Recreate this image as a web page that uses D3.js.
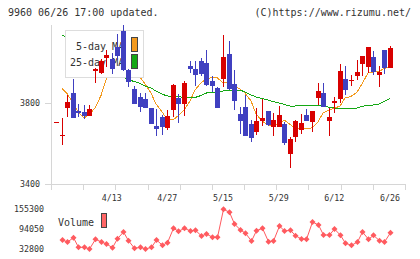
<!DOCTYPE html>
<html>
<head>
<meta charset="utf-8">
<script src="https://cdn.jsdelivr.net/npm/d3@7"></script>
<style>
  body { margin: 0; background: #fff; }
  svg text { font-family: "DejaVu Sans Mono", monospace; fill: #333; }
</style>
</head>
<body>
<svg width="420" height="259"></svg>
<script>
// trading days, 2020-03-30 .. 2020-06-26
const dates = [
  "3/30","3/31","4/1","4/2","4/3","4/6","4/7","4/8","4/9","4/10",
  "4/13","4/14","4/15","4/16","4/17","4/20","4/21","4/22","4/23","4/24",
  "4/27","4/28","4/30","5/1","5/7","5/8","5/11","5/12","5/13","5/14",
  "5/15","5/18","5/19","5/20","5/21","5/22","5/25","5/26","5/27","5/28",
  "5/29","6/1","6/2","6/3","6/4","6/5","6/8","6/9","6/10","6/11",
  "6/12","6/15","6/16","6/17","6/18","6/19","6/22","6/23","6/24","6/25",
  "6/26"
];
const open = [
  3705,3640,3775,3850,3760,3755,3735,3960,3950,4020,
  4015,4075,4155,3965,3870,3830,3820,3775,3685,3730,
  3675,3765,3825,3795,3985,3970,4005,3995,3910,3875,
  3920,4040,3895,3745,3780,3695,3655,3710,3760,3680,
  3680,3695,3550,3630,3665,3740,3705,3825,3850,3710,
  3800,3820,3920,3910,3935,3990,3980,4025,3940,4060,
  3975
];
const high = [
  3705,3725,3840,3920,3795,3790,3790,3975,4015,4060,
  4045,4140,4185,3970,3885,3850,3850,3775,3770,3740,
  3765,3895,3845,3910,4005,4005,4020,4060,3935,3880,
  4135,4105,3965,3780,3840,3715,3775,3820,3760,3750,
  3785,3705,3630,3715,3745,3770,3760,3900,3900,3775,
  3830,3990,3985,3940,4010,4030,4075,4055,3985,4060,
  4080
];
const low = [
  3705,3595,3730,3725,3730,3720,3735,3900,3945,3980,
  3945,4010,3960,3880,3795,3755,3775,3695,3635,3640,
  3665,3730,3700,3735,3950,3885,3935,3885,3855,3775,
  3880,3865,3765,3645,3635,3605,3640,3685,3685,3635,
  3680,3595,3480,3605,3645,3710,3655,3790,3780,3635,
  3750,3800,3840,3885,3915,3935,3950,3940,3880,3945,
  3975
];
const close = [
  3705,3640,3805,3725,3750,3735,3770,3970,4005,4035,
  3970,4030,3965,3905,3795,3780,3775,3695,3670,3680,
  3735,3890,3795,3900,3970,3940,3945,3890,3885,3775,
  4025,3870,3810,3710,3635,3625,3710,3725,3690,3715,
  3740,3600,3620,3710,3700,3710,3760,3860,3780,3730,
  3810,3960,3865,3915,3955,4030,4075,3955,3955,3975,
  4070
];
const ma5 = [
  null,3872,3847,3800,3756,3726,3741,3775,3837,3914,
  3963,4002,4022,4002,3953,3928,3894,3849,3795,3756,
  3721,3716,3736,3765,3810,3864,3899,3919,3926,3926,
  3899,3899,3884,3869,3849,3810,3746,3711,3691,3689,
  3696,3716,3694,3677,3672,3672,3677,3706,3751,3765,
  3773,3785,3825,3832,3854,3894,3948,3953,3955,3970,
  3979
];
const ma25 = [
  null,4136,4121,4106,4091,4072,4052,4037,4017,3993,
  3968,3948,3928,3916,3906,3897,3884,3874,3859,3844,
  3835,3832,3832,3827,3825,3827,3837,3849,3852,3854,
  3859,3864,3864,3864,3854,3840,3830,3822,3815,3807,
  3800,3793,3785,3785,3788,3788,3788,3788,3785,3779,
  3775,3775,3775,3775,3775,3783,3788,3790,3795,3807,
  3823
];
const volume = [
  null,60400,54200,67400,38000,38000,32800,62500,54200,48100,
  36800,64300,84900,58200,34900,38000,32800,38000,60400,44100,
  52100,96200,87000,96200,87900,90100,72600,78700,68600,68600,
  154400,145200,109400,91000,80900,57300,88800,96200,55200,57300,
  103200,87900,90100,73500,63400,62500,115500,106300,75700,75700,
  94100,74700,50300,44100,54200,84900,62500,74700,58200,54200,
  82700
];
const priceTicks = [3400, 3800];
const volumeTicks = [32800, 94050, 155300];
const maNames = ["5-day MA", "25-day MA"];

const svg = d3.select("svg");
const red = "#d80000", blue = "#4040c0";
const orange = "#f39a1e", green = "#14a814";
const grid = "#d6d6d6";

const x = d3.scaleLinear().domain([-0.9, 62.7]).range([51, 405]);
const y = d3.scaleLinear().domain([3400, 4185]).range([184, 25]);
const yv = d3.scaleLinear().domain([32800, 155300]).range([249, 209]);

const idx = d3.range(dates.length);
const px = i => Math.round(x(i));

// header
svg.append("text").attr("x", 8).attr("y", 16).style("font-size", "10px")
    .text("9960 06/26 17:00 updated.");
svg.append("text").attr("x", 411).attr("y", 16).attr("text-anchor", "end")
    .style("font-size", "10px").text("(C)https://www.rizumu.net/");

// axes
const ax = svg.append("g").attr("stroke", grid).attr("shape-rendering", "crispEdges");
ax.append("line").attr("x1", 51.5).attr("x2", 51.5).attr("y1", 25).attr("y2", 190);
ax.append("line").attr("x1", 45).attr("x2", 405).attr("y1", 184.5).attr("y2", 184.5);
const xTicks = d3.range(12).map(k => 51 + k * (354 / 11));
ax.selectAll(".xt").data(xTicks).enter().append("line")
    .attr("x1", d => Math.round(d) + 0.5).attr("x2", d => Math.round(d) + 0.5)
    .attr("y1", 184).attr("y2", 190);
ax.selectAll(".yt").data(priceTicks).enter().append("line")
    .attr("x1", 45).attr("x2", 51)
    .attr("y1", d => Math.round(y(d)) + 0.5).attr("y2", d => Math.round(y(d)) + 0.5);

svg.selectAll(".pl").data(priceTicks).enter().append("text")
    .attr("x", 40).attr("y", d => y(d) + 3).attr("text-anchor", "end")
    .style("font-size", "8.3px").text(d => d);

svg.selectAll(".dl").data(idx.filter(i => i % 10 === 0 && i > 0)).enter().append("text")
    .attr("x", d => x(d)).attr("y", 200.5).attr("text-anchor", "middle")
    .style("font-size", "8.3px").text(d => dates[d]);

svg.selectAll(".vl").data(volumeTicks).enter().append("text")
    .attr("x", 44).attr("y", d => yv(d) + 3).attr("text-anchor", "end")
    .style("font-size", "8.3px").text(d => d);

// moving averages
const maLine = arr => d3.line()
    .defined(i => arr[i] != null)
    .x(i => px(i))
    .y(i => y(arr[i]));
[[ma5, orange], [ma25, green]].forEach(([arr, col]) => {
  svg.append("path").datum(idx)
      .attr("fill", "none").attr("stroke", col).attr("stroke-width", 1)
      .attr("shape-rendering", "crispEdges")
      .attr("d", maLine(arr));
});

// legend
const lg = svg.append("g");
lg.append("rect").attr("x", 65.5).attr("y", 30.5).attr("width", 78).attr("height", 47)
    .attr("fill", "#fff").attr("stroke", "#ddd");
lg.append("text").attr("x", 76).attr("y", 50).style("font-size", "10px").text(maNames[0]);
lg.append("text").attr("x", 70).attr("y", 66).style("font-size", "10px").text(maNames[1]);
lg.append("rect").attr("x", 131.5).attr("y", 37.5).attr("width", 6).attr("height", 14)
    .attr("fill", orange).attr("stroke", "#444");
lg.append("rect").attr("x", 131.5).attr("y", 54.5).attr("width", 6).attr("height", 14)
    .attr("fill", green).attr("stroke", "#444");

// candles
const cg = svg.append("g").attr("shape-rendering", "crispEdges");
const candle = cg.selectAll("g").data(idx).enter().append("g")
    .attr("fill", i => close[i] >= open[i] ? red : blue)
    .attr("stroke", "none");
candle.append("rect")
    .attr("x", i => px(i))
    .attr("width", 1)
    .attr("y", i => y(high[i]))
    .attr("height", i => Math.max(1, y(low[i]) - y(high[i])));
candle.append("rect")
    .attr("x", i => px(i) - 2)
    .attr("width", 5)
    .attr("y", i => y(Math.max(open[i], close[i])))
    .attr("height", i => Math.max(1, Math.abs(y(open[i]) - y(close[i]))));

// volume
const vIdx = idx.filter(i => volume[i] != null);
const vcol = "#ff5a5f";
svg.append("path").datum(vIdx)
    .attr("fill", "none").attr("stroke", vcol).attr("stroke-width", 1)
    .attr("d", d3.line().x(i => px(i) + 0.5).y(i => yv(volume[i])));
svg.selectAll(".vm").data(vIdx).enter().append("path")
    .attr("fill", vcol)
    .attr("transform", i => `translate(${px(i) + 0.5},${yv(volume[i])}) rotate(45)`)
    .attr("d", d3.symbol(d3.symbolSquare, 18));

svg.append("text").attr("x", 58).attr("y", 226).style("font-size", "10px").text("Volume");
svg.append("rect").attr("x", 101.5).attr("y", 213.5).attr("width", 5).attr("height", 14)
    .attr("fill", "#ff6666").attr("stroke", "#444");
</script>
</body>
</html>
